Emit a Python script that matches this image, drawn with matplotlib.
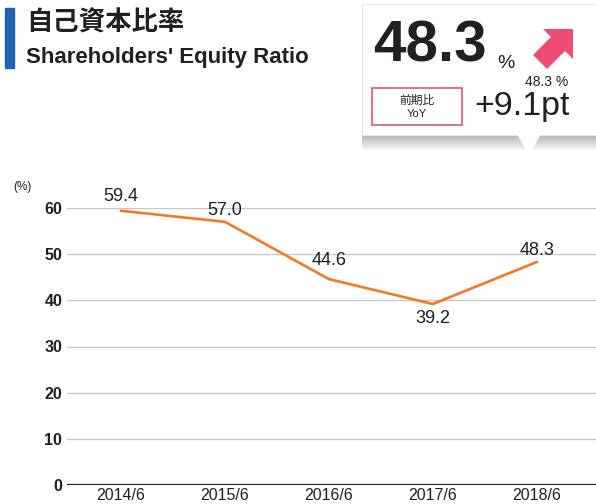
import matplotlib
matplotlib.use("Agg")
import matplotlib.pyplot as plt
from matplotlib.patches import Rectangle, Polygon

plt.rcParams['font.family'] = ['Liberation Sans', 'Noto Sans CJK JP', 'DejaVu Sans']

# データ
years = ['2014/6', '2015/6', '2016/6', '2017/6', '2018/6']
ratio = [59.4, 57.0, 44.6, 39.2, 48.3]
yticks = [0, 10, 20, 30, 40, 50, 60]
current = '48.3'
yoy = '+9.1pt'

W, H = 596, 504
fig = plt.figure(figsize=(W / 100, H / 100), dpi=100)


def px(x, y):
    # пиксели -> доли фигуры
    return x / W, 1 - y / H


# область графика
ax = fig.add_axes([67 / W, 1 - 485 / H, 1 - 67 / W, (485 - 208) / H])
xs = list(range(len(years)))
ax.plot(xs, ratio, color='#F37A21', lw=1.9, clip_on=False, zorder=3)
ax.set_xlim(-0.52, 4.57)
ax.set_ylim(0, 60)
ax.set_yticks(yticks)
ax.set_yticklabels([str(t) for t in yticks], fontsize=11.5, fontweight='bold', color='#231f20')
ax.set_xticks(xs)
ax.set_xticklabels(years, fontsize=11.5, color='#231f20')
ax.tick_params(length=0, pad=3.5)
ax.tick_params(axis='x', pad=2)
for s in ax.spines.values():
    s.set_visible(False)
for t in yticks[1:]:
    ax.axhline(t, color='#c9c9c9', lw=1.0, zorder=1)
ax.axhline(0, color='#231f20', lw=1.6, zorder=2)

# подписи значений
offsets = [14, 11, 19, 14, 12]
for i, v in enumerate(ratio):
    d = -1 if i == 3 else 1
    ax.annotate(f'{v:.1f}', (i, v), xytext=(0, d * offsets[i] * 0.72), textcoords='offset points',
                ha='center', va='center', fontsize=13, color='#231f20')

fig.text(*px(22, 187), '(%)', fontsize=8.5, color='#231f20', ha='center', va='center')

# заголовок
fig.patches.append(Rectangle(px(5, 68), 9 / W, 60 / H, transform=fig.transFigure, color='#1B63B3'))
fig.text(*px(26, 23), '自己資本比率', fontsize=19, fontweight='bold', color='#231f20',
         va='center', family=['Noto Sans CJK JP'])
fig.text(*px(26, 57), "Shareholders' Equity Ratio", fontsize=16, fontweight='bold',
         color='#231f20', va='center')

# блок с текущим значением: тень
for k in range(10):
    fig.patches.append(Rectangle(px(362, 136 + k * 1.6), 1, (130 + k * 1.6) / H,
                                 transform=fig.transFigure, color='black', alpha=0.03, lw=0))
box = Rectangle(px(362, 135), 1, 131 / H, transform=fig.transFigure, facecolor='white',
                edgecolor='#e6e6e6', lw=0.6)
fig.patches.append(box)
tri = Polygon([px(517, 134), px(541, 134), px(529, 155)], closed=True,
              transform=fig.transFigure, facecolor='white', edgecolor='none')
fig.patches.append(tri)

fig.text(*px(373, 47), current, fontsize=42, fontweight='bold', color='#231f20', va='center')
fig.text(*px(497, 63), '%', fontsize=14, color='#231f20', va='center')
fig.text(*px(547, 82), current + ' %', fontsize=10, color='#231f20', va='center', ha='center')

arrow = [(573, 29), (543, 29), (551, 37), (533, 55), (547, 69), (565, 51), (573, 59)]
fig.patches.append(Polygon([px(x, y) for x, y in arrow], closed=True,
                           transform=fig.transFigure, color='#EF4C75', lw=0))

fig.patches.append(Rectangle(px(372, 125), 90 / W, 37 / H, transform=fig.transFigure,
                             facecolor='white', edgecolor='#E8507A', lw=1.2))
fig.text(*px(417, 100), '前期比', fontsize=8.5, color='#231f20', ha='center', va='center',
         family=['Noto Sans CJK JP'])
fig.text(*px(417, 114), 'YoY', fontsize=8, color='#231f20', ha='center', va='center')
fig.text(*px(522, 106), yoy, fontsize=24.5, color='#231f20', ha='center', va='center')

fig.savefig('out.png', dpi=100)
